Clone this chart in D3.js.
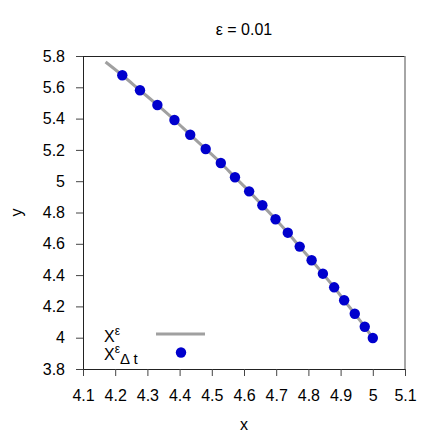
<!DOCTYPE html>
<html>
<head>
<meta charset="utf-8">
<script src="https://cdn.jsdelivr.net/npm/d3@7"></script>
<style>
  body { margin: 0; background: #fff; }
  text { font-family: "Liberation Sans", Arial, sans-serif; fill: #000; }
</style>
</head>
<body>
<script>
var width = 436,
    height = 436;

// dots (Euler scheme, step Δt)
var dotX = [4.222, 4.277, 4.331, 4.384, 4.433, 4.481, 4.528, 4.572, 4.616, 4.657,
            4.698, 4.736, 4.773, 4.810, 4.845, 4.880, 4.911, 4.944, 4.975, 5.000];
var dotY = [5.677, 5.581, 5.487, 5.391, 5.297, 5.206, 5.116, 5.025, 4.935, 4.846,
            4.757, 4.671, 4.582, 4.495, 4.409, 4.322, 4.239, 4.153, 4.070, 3.998];
// exact trajectory
var lineX = [4.17, 4.222, 4.277, 4.331, 4.384, 4.433, 4.481, 4.528, 4.572, 4.616, 4.657,
             4.698, 4.736, 4.773, 4.810, 4.845, 4.880, 4.911, 4.944, 4.975, 5.000];
var lineY = [5.762, 5.677, 5.581, 5.487, 5.391, 5.297, 5.206, 5.116, 5.025, 4.935, 4.846,
             4.757, 4.671, 4.582, 4.495, 4.409, 4.322, 4.239, 4.153, 4.070, 3.998];

var xTicks = [4.1, 4.2, 4.3, 4.4, 4.5, 4.6, 4.7, 4.8, 4.9, 5, 5.1];
var yTicks = [3.8, 4, 4.2, 4.4, 4.6, 4.8, 5, 5.2, 5.4, 5.6, 5.8];

var mLeft = 83, mRight = 405, mTop = 56, mBottom = 369;

var x = d3.scaleLinear().domain([4.1, 5.1]).range([mLeft, mRight]);
var y = d3.scaleLinear().domain([3.8, 5.8]).range([mBottom, mTop]);
var fmt = function(d) { return String(+d.toFixed(1)); };

var svg = d3.select("body").append("svg")
    .attr("width", width)
    .attr("height", height);

// axes
svg.append("g")
    .attr("transform", "translate(0," + mBottom + ")")
    .call(d3.axisBottom(x).tickValues(xTicks).tickFormat(fmt).tickSize(7).tickPadding(14).tickSizeOuter(0));
svg.append("g")
    .attr("transform", "translate(" + mLeft + ",0)")
    .call(d3.axisLeft(y).tickValues(yTicks).tickFormat(fmt).tickSize(7).tickPadding(11).tickSizeOuter(0));

svg.selectAll(".tick text")
    .style("font-size", "16px")
    .style("font-family", '"Liberation Sans", Arial, sans-serif');
svg.selectAll(".tick line").attr("stroke", "#444");
svg.selectAll(".domain").attr("stroke", "#222");

// box
svg.append("line").attr("x1", mLeft).attr("x2", mRight).attr("y1", mTop + 0.5).attr("y2", mTop + 0.5)
    .attr("stroke", "#222");
svg.append("line").attr("x1", mRight).attr("x2", mRight).attr("y1", mTop).attr("y2", mBottom)
    .attr("stroke", "#888").attr("stroke-width", 1.5);

// trajectory
var line = d3.line()
    .x(function(d, i) { return x(lineX[i]); })
    .y(function(d, i) { return y(lineY[i]); })
    .curve(d3.curveMonotoneX);
svg.append("path")
    .datum(lineX)
    .attr("d", line)
    .attr("fill", "none")
    .attr("stroke", "#a0a0a0")
    .attr("stroke-width", 3);

svg.selectAll("circle.dot")
    .data(dotX)
    .enter().append("circle")
    .attr("class", "dot")
    .attr("cx", function(d) { return x(d); })
    .attr("cy", function(d, i) { return y(dotY[i]); })
    .attr("r", 5.2)
    .attr("fill", "#0000cd");

// title and labels
svg.append("text")
    .attr("x", (mLeft + mRight) / 2).attr("y", 35)
    .attr("text-anchor", "middle")
    .style("font-size", "16px")
    .text("ε = 0.01");
svg.append("text")
    .attr("x", (mLeft + mRight) / 2).attr("y", 430)
    .attr("text-anchor", "middle")
    .style("font-size", "16px")
    .text("x");
svg.append("text")
    .attr("transform", "translate(22," + (mTop + mBottom) / 2 + ") rotate(-90)")
    .attr("text-anchor", "middle")
    .style("font-size", "16px")
    .text("y");

// legend
var lg = svg.append("g");
var t1 = lg.append("text").attr("x", 104).attr("y", 342).style("font-size", "16px");
t1.append("tspan").text("X");
t1.append("tspan").attr("dy", -7).style("font-size", "12px").text("ε");
lg.append("line")
    .attr("x1", 156).attr("x2", 205).attr("y1", 334).attr("y2", 334)
    .attr("stroke", "#a0a0a0").attr("stroke-width", 3);
var t2 = lg.append("text").attr("x", 104).attr("y", 360).style("font-size", "16px");
t2.append("tspan").text("X");
t2.append("tspan").attr("dy", -7).style("font-size", "12px").text("ε");
t2.append("tspan").attr("dy", 11).style("font-size", "15px").text("Δ t");
lg.append("circle")
    .attr("cx", 181).attr("cy", 352.5).attr("r", 5.2)
    .attr("fill", "#0000cd");
</script>
</body>
</html>
